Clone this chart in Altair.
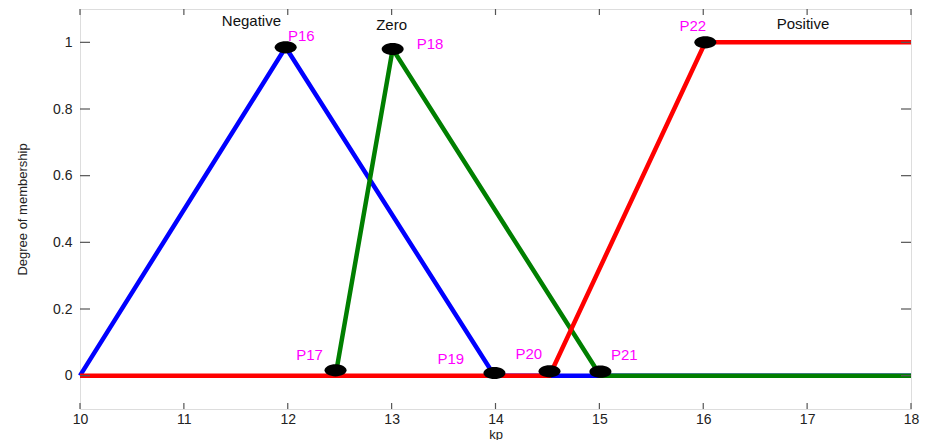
import altair as alt
import pandas as pd

# Membership functions
neg_x = [10, 11.98, 13.99, 18]
neg_y = [0.0, 0.985, 0.0, 0.0]
zero_x = [12.46, 13.01, 15.01, 18]
zero_y = [0.0, 0.98, 0.0, 0.0]
pos_x = [10, 14.52, 16.02, 18]
pos_y = [0.0, 0.0, 1.0, 1.0]

# Marked points
pt_x = [11.98, 12.46, 13.01, 13.99, 14.52, 15.01, 16.02]
pt_y = [0.985, 0.016, 0.98, 0.008, 0.013, 0.012, 1.0]

# Point labels (positions in data units)
lab_text = ["P16", "P17", "P18", "P19", "P20", "P21", "P22"]
lab_x = [12.13, 12.21, 13.37, 13.57, 14.32, 15.24, 15.90]
lab_y = [1.02, 0.061, 0.994, 0.049, 0.065, 0.061, 1.048]

# Set names
set_text = ["Negative", "Zero", "Positive"]
set_x = [11.65, 13.0, 16.96]
set_y = [1.063, 1.051, 1.054]

xticks = [10, 11, 12, 13, 14, 15, 16, 17, 18]
yticks = [0, 0.2, 0.4, 0.6, 0.8, 1]

W, H = 831, 400
FONT = "Liberation Sans"

xs = alt.Scale(domain=[10, 18], nice=False, zero=False)
ys = alt.Scale(domain=[-0.1, 1.1], nice=False, zero=False)

xax = alt.Axis(values=xticks, ticks=False, domain=False, grid=False, labelFlush=False,
               labelFont=FONT, labelFontSize=14, labelColor="#222",
               labelPadding=3, titleFont=FONT, titleFontSize=13,
               titleFontWeight="normal", titleColor="#222",
               titleY=29, titleBaseline="alphabetic")
yax = alt.Axis(values=yticks, ticks=False, domain=False, grid=False, labelFlush=False,
               format="~g",
               labelFont=FONT, labelFontSize=14, labelColor="#222",
               labelPadding=8, titleFont=FONT,
               titleFontSize=13, titleFontWeight="normal", titleColor="#222",
               titleX=-58, titleY=H / 2, titleBaseline="middle")
XT, YT = "kp", "Degree of membership"


def X(field):
    return alt.X(field, scale=xs, axis=xax, title=XT)


def Y(field):
    return alt.Y(field, scale=ys, axis=yax, title=YT)


def line_layer(xv, yv, color):
    df = pd.DataFrame({"x": xv, "y": yv, "o": list(range(len(xv)))})
    return alt.Chart(df).mark_line(color=color, strokeWidth=4.5, strokeCap="butt").encode(
        x=X("x:Q"), y=Y("y:Q"), order="o:Q")


xt_df = pd.DataFrame({"t": xticks})
yt_df = pd.DataFrame({"t": yticks})
tick_col = "#555"
xt_bottom = alt.Chart(xt_df).mark_rule(color=tick_col, strokeWidth=1.2).encode(
    x=X("t:Q"), y=alt.value(H), y2=alt.value(H - 6))
xt_top = alt.Chart(xt_df).mark_rule(color=tick_col, strokeWidth=1.2).encode(
    x=X("t:Q"), y=alt.value(0), y2=alt.value(6))
yt_left = alt.Chart(yt_df).mark_rule(color=tick_col, strokeWidth=1.2).encode(
    y=Y("t:Q"), x=alt.value(0), x2=alt.value(10))
yt_right = alt.Chart(yt_df).mark_rule(color=tick_col, strokeWidth=1.2).encode(
    y=Y("t:Q"), x=alt.value(W - 10), x2=alt.value(W))

pts_df = pd.DataFrame({"x": pt_x, "y": pt_y})
ellipse = "M-1,0A1,0.55 0 1,0 1,0A1,0.55 0 1,0 -1,0Z"
dots = alt.Chart(pts_df).mark_point(shape=ellipse, filled=True, color="black",
                                    size=484, opacity=1).encode(x=X("x:Q"), y=Y("y:Q"))

lab_df = pd.DataFrame({"t": lab_text, "x": lab_x, "y": lab_y})
labels = alt.Chart(lab_df).mark_text(color="#FF00FF", font=FONT, fontSize=15,
                                     align="center", baseline="middle").encode(
    x=X("x:Q"), y=Y("y:Q"), text="t:N")

set_df = pd.DataFrame({"t": set_text, "x": set_x, "y": set_y})
sets = alt.Chart(set_df).mark_text(color="#111", font=FONT, fontSize=15,
                                   align="center", baseline="middle").encode(
    x=X("x:Q"), y=Y("y:Q"), text="t:N")

chart = alt.layer(
    line_layer(neg_x, neg_y, "#0000FF"),
    line_layer(zero_x, zero_y, "#007F00"),
    line_layer(pos_x, pos_y, "#FF0000"),
    xt_bottom, xt_top, yt_left, yt_right,
    dots, labels, sets,
).properties(
    width=W, height=H,
    autosize=alt.AutoSizeParams(type="none"),
    padding={"left": 72, "top": 1, "right": 13, "bottom": 31},
).configure_view(stroke="#444", strokeWidth=1.5).configure(background="white")

chart.save("out.html", embed_options={"renderer": "svg", "actions": False})
